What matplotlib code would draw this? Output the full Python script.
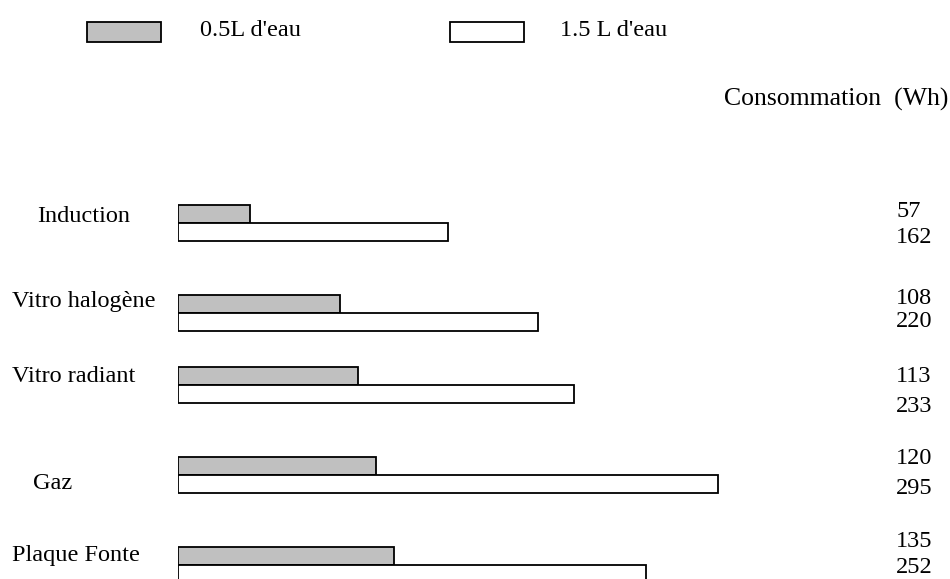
import matplotlib.pyplot as plt
from matplotlib.patches import Rectangle
from matplotlib.transforms import blended_transform_factory

plt.rcParams['font.family'] = ['Liberation Serif', 'DejaVu Serif']

# Données
categories = ['Induction', 'Vitro halogène', 'Vitro radiant', 'Gaz', 'Plaque Fonte']
barres_05L = [40, 90, 100, 110, 120]    # longueur des barres grises
barres_15L = [150, 200, 220, 300, 260]  # longueur des barres blanches
valeurs_05L = ['57', '108', '113', '120', '135']
valeurs_15L = ['162', '220', '233', '295', '252']

# Mise en page (en pixels) - les groupes ne sont pas régulièrement espacés
rangs = [0, 1, 1.8, 2.8, 3.8]
x_noms = [37, 12, 12, 33, 12]
dy_noms = [-1, -6, -3, 14, -4]          # ligne de base des noms / centre du groupe
dy_haut = [-6, -9, -3, -11, -18]        # ligne de base des valeurs 0.5L
dy_bas = [20, 14, 27, 19, 8]            # ligne de base des valeurs 1.5L

W, H = 950, 579
PX = 90  # pixels par unité de rang
fig = plt.figure(figsize=(W / 100, H / 100), dpi=100)
ax = fig.add_axes([178 / W, 0, 1 - 178 / W, 1])
ax.set_xlim(0, (W - 178) / 1.8)
ax.set_ylim((H - 223) / PX, -223 / PX)
ax.axis('off')

h = 0.2
ax.barh([r - h / 2 for r in rangs], barres_05L, height=h, color='#c0c0c0',
        edgecolor='black', linewidth=1.3)
ax.barh([r + h / 2 for r in rangs], barres_15L, height=h, color='white',
        edgecolor='black', linewidth=1.3)

tr = blended_transform_factory(fig.transFigure, ax.transData)
fs = 17.5
for i, cat in enumerate(categories):
    ax.text(x_noms[i] / W, rangs[i] + dy_noms[i] / PX, cat, transform=tr,
            fontsize=fs, va='baseline', ha='left')
    ax.text(896 / W, rangs[i] + dy_haut[i] / PX, valeurs_05L[i], transform=tr,
            fontsize=fs, va='baseline', ha='left')
    ax.text(896 / W, rangs[i] + dy_bas[i] / PX, valeurs_15L[i], transform=tr,
            fontsize=fs, va='baseline', ha='left')

# Titre
fig.text(948 / W, 1 - 106 / H, 'Consommation  (Wh)', fontsize=18.5,
         ha='right', va='baseline')

# Légende
for x0, fc, txt, xt in [(87, '#c0c0c0', "0.5L d'eau", 200),
                        (450, 'white', "1.5 L d'eau", 560)]:
    fig.patches.append(Rectangle((x0 / W, 1 - 42 / H), 74 / W, 20 / H,
                                 facecolor=fc, edgecolor='black',
                                 linewidth=1.3, transform=fig.transFigure))
    fig.text(xt / W, 1 - 36 / H, txt, fontsize=fs, ha='left', va='baseline')

plt.savefig('out.png', dpi=100)
